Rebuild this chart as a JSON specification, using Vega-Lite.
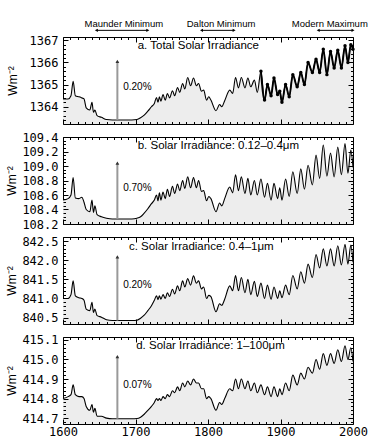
{
"$schema": "https://vega.github.io/schema/vega-lite/v6.json",
"background": "white",
"padding": {"left": 5, "top": 18, "right": 3, "bottom": 2},
"bounds": "flush",
"spacing": 13,
"datasets": {
"solar": [
{"year":1600,"tsi":1364.35,"uv":108.53,"vis":841.0,"ir":414.8},
{"year":1607,"tsi":1364.35,"uv":108.55,"vis":841.0,"ir":414.81},
{"year":1611,"tsi":1364.5,"uv":108.6,"vis":841.1,"ir":414.82},
{"year":1614,"tsi":1365.15,"uv":108.84,"vis":841.46,"ir":414.87},
{"year":1617,"tsi":1364.5,"uv":108.56,"vis":841.07,"ir":414.82},
{"year":1622,"tsi":1364.45,"uv":108.55,"vis":841.02,"ir":414.81},
{"year":1626,"tsi":1364.4,"uv":108.57,"vis":841.0,"ir":414.81},
{"year":1629,"tsi":1364.35,"uv":108.5,"vis":840.95,"ir":414.8},
{"year":1632,"tsi":1363.95,"uv":108.4,"vis":840.72,"ir":414.76},
{"year":1637,"tsi":1363.85,"uv":108.37,"vis":840.68,"ir":414.74},
{"year":1640,"tsi":1364.2,"uv":108.53,"vis":840.9,"ir":414.77},
{"year":1642,"tsi":1363.75,"uv":108.36,"vis":840.63,"ir":414.73},
{"year":1644,"tsi":1363.85,"uv":108.45,"vis":840.72,"ir":414.75},
{"year":1647,"tsi":1363.6,"uv":108.33,"vis":840.55,"ir":414.71},
{"year":1653,"tsi":1363.52,"uv":108.3,"vis":840.51,"ir":414.71},
{"year":1660,"tsi":1363.42,"uv":108.28,"vis":840.44,"ir":414.7},
{"year":1668,"tsi":1363.4,"uv":108.27,"vis":840.42,"ir":414.697},
{"year":1680,"tsi":1363.4,"uv":108.27,"vis":840.42,"ir":414.697},
{"year":1695,"tsi":1363.4,"uv":108.27,"vis":840.42,"ir":414.697},
{"year":1702,"tsi":1363.42,"uv":108.28,"vis":840.43,"ir":414.698},
{"year":1707,"tsi":1363.5,"uv":108.3,"vis":840.48,"ir":414.705},
{"year":1712,"tsi":1363.62,"uv":108.35,"vis":840.56,"ir":414.72},
{"year":1717,"tsi":1363.8,"uv":108.41,"vis":840.68,"ir":414.74},
{"year":1722,"tsi":1364.0,"uv":108.48,"vis":840.81,"ir":414.76},
{"year":1726,"tsi":1364.15,"uv":108.53,"vis":840.95,"ir":414.78},
{"year":1729,"tsi":1364.42,"uv":108.6,"vis":841.07,"ir":414.8},
{"year":1731,"tsi":1364.2,"uv":108.52,"vis":840.97,"ir":414.79},
{"year":1733,"tsi":1364.45,"uv":108.63,"vis":841.07,"ir":414.8},
{"year":1735,"tsi":1364.25,"uv":108.53,"vis":840.98,"ir":414.79},
{"year":1738,"tsi":1364.55,"uv":108.64,"vis":841.1,"ir":414.81},
{"year":1741,"tsi":1364.3,"uv":108.55,"vis":841.0,"ir":414.8},
{"year":1744,"tsi":1364.6,"uv":108.68,"vis":841.15,"ir":414.82},
{"year":1747,"tsi":1364.4,"uv":108.58,"vis":841.05,"ir":414.81},
{"year":1751,"tsi":1364.72,"uv":108.72,"vis":841.24,"ir":414.84},
{"year":1754,"tsi":1364.5,"uv":108.62,"vis":841.12,"ir":414.83},
{"year":1758,"tsi":1364.87,"uv":108.75,"vis":841.33,"ir":414.86},
{"year":1761,"tsi":1364.65,"uv":108.66,"vis":841.2,"ir":414.84},
{"year":1765,"tsi":1365.05,"uv":108.8,"vis":841.46,"ir":414.88},
{"year":1768,"tsi":1364.8,"uv":108.69,"vis":841.3,"ir":414.86},
{"year":1772,"tsi":1365.32,"uv":108.85,"vis":841.52,"ir":414.89},
{"year":1776,"tsi":1364.95,"uv":108.7,"vis":841.35,"ir":414.87},
{"year":1780,"tsi":1365.3,"uv":108.84,"vis":841.59,"ir":414.9},
{"year":1784,"tsi":1364.95,"uv":108.7,"vis":841.4,"ir":414.88},
{"year":1787,"tsi":1365.05,"uv":108.8,"vis":841.46,"ir":414.88},
{"year":1791,"tsi":1364.7,"uv":108.65,"vis":841.25,"ir":414.85},
{"year":1794,"tsi":1364.75,"uv":108.66,"vis":841.3,"ir":414.85},
{"year":1798,"tsi":1364.3,"uv":108.52,"vis":841.0,"ir":414.8},
{"year":1801,"tsi":1364.45,"uv":108.58,"vis":841.08,"ir":414.81},
{"year":1804,"tsi":1364.3,"uv":108.55,"vis":841.05,"ir":414.8},
{"year":1811,"tsi":1363.82,"uv":108.37,"vis":840.65,"ir":414.74},
{"year":1816,"tsi":1364.1,"uv":108.49,"vis":840.86,"ir":414.78},
{"year":1819,"tsi":1364.0,"uv":108.45,"vis":840.82,"ir":414.77},
{"year":1823,"tsi":1364.27,"uv":108.55,"vis":840.98,"ir":414.8},
{"year":1830,"tsi":1364.75,"uv":108.71,"vis":841.33,"ir":414.85},
{"year":1834,"tsi":1364.6,"uv":108.63,"vis":841.2,"ir":414.84},
{"year":1838,"tsi":1365.32,"uv":108.88,"vis":841.6,"ir":414.9},
{"year":1842,"tsi":1364.85,"uv":108.66,"vis":841.2,"ir":414.85},
{"year":1846,"tsi":1365.32,"uv":108.85,"vis":841.55,"ir":414.9},
{"year":1851,"tsi":1364.85,"uv":108.62,"vis":841.15,"ir":414.85},
{"year":1855,"tsi":1365.3,"uv":108.83,"vis":841.5,"ir":414.89},
{"year":1859,"tsi":1364.9,"uv":108.6,"vis":841.1,"ir":414.84},
{"year":1864,"tsi":1365.2,"uv":108.8,"vis":841.45,"ir":414.88},
{"year":1868,"tsi":1364.65,"uv":108.6,"vis":841.05,"ir":414.83},
{"year":1873,"tsi":1365.6,"uv":108.82,"vis":841.4,"ir":414.87},
{"year":1878,"tsi":1364.3,"uv":108.57,"vis":841.0,"ir":414.82},
{"year":1882,"tsi":1365.0,"uv":108.76,"vis":841.35,"ir":414.86},
{"year":1887,"tsi":1364.5,"uv":108.53,"vis":840.98,"ir":414.81},
{"year":1891,"tsi":1365.3,"uv":108.76,"vis":841.3,"ir":414.86},
{"year":1896,"tsi":1364.55,"uv":108.55,"vis":841.0,"ir":414.81},
{"year":1899,"tsi":1364.7,"uv":108.7,"vis":841.2,"ir":414.85},
{"year":1902,"tsi":1364.2,"uv":108.53,"vis":841.02,"ir":414.82},
{"year":1907,"tsi":1365.0,"uv":108.82,"vis":841.35,"ir":414.88},
{"year":1912,"tsi":1364.45,"uv":108.58,"vis":841.1,"ir":414.84},
{"year":1917,"tsi":1365.45,"uv":108.92,"vis":841.6,"ir":414.92},
{"year":1923,"tsi":1364.9,"uv":108.62,"vis":841.25,"ir":414.87},
{"year":1928,"tsi":1365.55,"uv":108.96,"vis":841.7,"ir":414.93},
{"year":1933,"tsi":1365.0,"uv":108.68,"vis":841.4,"ir":414.9},
{"year":1938,"tsi":1366.0,"uv":109.01,"vis":841.9,"ir":414.96},
{"year":1944,"tsi":1365.55,"uv":108.74,"vis":841.55,"ir":414.93},
{"year":1949,"tsi":1366.15,"uv":109.15,"vis":842.15,"ir":415.0},
{"year":1954,"tsi":1365.55,"uv":108.83,"vis":841.8,"ir":414.95},
{"year":1959,"tsi":1366.6,"uv":109.29,"vis":842.3,"ir":415.03},
{"year":1964,"tsi":1365.45,"uv":108.86,"vis":841.85,"ir":414.97},
{"year":1969,"tsi":1366.5,"uv":109.18,"vis":842.3,"ir":415.03},
{"year":1974,"tsi":1365.75,"uv":108.85,"vis":841.85,"ir":414.98},
{"year":1979,"tsi":1366.55,"uv":109.26,"vis":842.38,"ir":415.05},
{"year":1984,"tsi":1365.75,"uv":108.88,"vis":841.88,"ir":414.99},
{"year":1989,"tsi":1366.75,"uv":109.31,"vis":842.42,"ir":415.07},
{"year":1993,"tsi":1366.0,"uv":108.9,"vis":841.9,"ir":415.0},
{"year":1997,"tsi":1366.8,"uv":109.22,"vis":842.4,"ir":415.06},
{"year":2000,"tsi":1366.6,"uv":108.98,"vis":841.95,"ir":414.99}
]
},
"vconcat": [
{
"width": 290, "height": 87,
"data": {"name": "solar"},
"resolve": {"axis": {"x": "independent", "y": "independent"}},
"layer": [
{"mark": {"type": "area", "color": "#ededed", "interpolate": "monotone", "clip": true},
 "encoding": {
  "x": {"field": "year", "type": "quantitative", "scale": {"domain": [1600, 2000], "nice": false, "zero": false}, "axis": {"orient": "bottom", "values": [1600,1700,1800,1900,2000], "offset": -5, "tickSize": 5, "labels": false, "title": null, "zindex": 2}},
  "y": {"field": "tsi", "type": "quantitative", "scale": {"domain": [1363.22, 1367.15], "nice": false, "zero": false}, "axis": {"orient": "left", "values": [1364,1365,1366,1367], "format": ".0f", "offset": -5, "tickSize": 5, "labelPadding": 5, "title": "Wm⁻²", "titlePadding": 10, "zindex": 2}},
  "y2": {"datum": 1363.22}
 }},
{"mark": {"type": "line", "color": "black", "strokeWidth": 1.1, "interpolate": "monotone"},
 "encoding": {
  "x": {"field": "year", "type": "quantitative", "axis": {"orient": "bottom", "values": [1610,1620,1630,1640,1650,1660,1670,1680,1690,1710,1720,1730,1740,1750,1760,1770,1780,1790,1810,1820,1830,1840,1850,1860,1870,1880,1890,1910,1920,1930,1940,1950,1960,1970,1980,1990], "offset": -2.5, "tickSize": 2.5, "labels": false, "title": null, "zindex": 2}},
  "y": {"field": "tsi", "type": "quantitative", "axis": {"orient": "left", "values": [1363.4,1363.6,1363.8,1364.2,1364.4,1364.6,1364.8,1365.2,1365.4,1365.6,1365.8,1366.2,1366.4,1366.6,1366.8], "offset": -2.5, "tickSize": 2.5, "labels": false, "title": null, "zindex": 2}}
 }},
{"transform": [{"filter": "datum.year >= 1873"}],
 "mark": {"type": "line", "color": "black", "strokeWidth": 1.9, "interpolate": "monotone"},
 "encoding": {
  "x": {"field": "year", "type": "quantitative", "axis": null},
  "y": {"field": "tsi", "type": "quantitative", "axis": null}
 }},
{"transform": [{"filter": "datum.year >= 1873"}],
 "mark": {"type": "point", "filled": true, "color": "black", "size": 12, "opacity": 1},
 "encoding": {
  "x": {"field": "year", "type": "quantitative", "axis": null},
  "y": {"field": "tsi", "type": "quantitative", "axis": null}
 }},
{"data": {"values": [{"year": 1675, "lo": 1363.4, "hi": 1366.05}]},
 "mark": {"type": "rule", "color": "#999999", "strokeWidth": 2},
 "encoding": {
  "x": {"field": "year", "type": "quantitative", "axis": null},
  "y": {"field": "lo", "type": "quantitative", "axis": null},
  "y2": {"field": "hi"}
 }},
{"data": {"values": [{"year": 1675, "hi": 1366.05}]},
 "mark": {"type": "point", "shape": "triangle-up", "filled": true, "color": "#333333", "size": 14, "opacity": 1},
 "encoding": {
  "x": {"field": "year", "type": "quantitative", "axis": null},
  "y": {"field": "hi", "type": "quantitative", "axis": null}
 }},
{"data": {"values": [{"year": 1683, "v": 1364.87, "label": "0.20%"}]},
 "mark": {"type": "text", "align": "left", "baseline": "middle", "fontSize": 10, "font": "Liberation Sans", "color": "black"},
 "encoding": {
  "x": {"field": "year", "type": "quantitative", "axis": {"orient": "top", "values": [1610,1620,1630,1640,1650,1660,1670,1680,1690,1710,1720,1730,1740,1750,1760,1770,1780,1790,1810,1820,1830,1840,1850,1860,1870,1880,1890,1910,1920,1930,1940,1950,1960,1970,1980,1990], "offset": -2.5, "tickSize": 2.5, "labels": false, "title": null, "zindex": 2}},
  "y": {"field": "v", "type": "quantitative", "axis": {"orient": "right", "values": [1363.4,1363.6,1363.8,1364.2,1364.4,1364.6,1364.8,1365.2,1365.4,1365.6,1365.8,1366.2,1366.4,1366.6,1366.8], "offset": -2.5, "tickSize": 2.5, "labels": false, "title": null, "zindex": 2}},
  "text": {"field": "label"}
 }},
{"data": {"values": [{"year": 1703, "v": 1366.74, "label": "a. Total Solar Irradiance"}]},
 "mark": {"type": "text", "align": "left", "baseline": "middle", "fontSize": 11.5, "font": "Liberation Sans", "color": "black"},
 "encoding": {
  "x": {"field": "year", "type": "quantitative", "axis": {"orient": "top", "values": [1600,1700,1800,1900,2000], "offset": -5, "tickSize": 5, "labels": false, "title": null, "zindex": 2}},
  "y": {"field": "v", "type": "quantitative", "axis": {"orient": "right", "values": [1364,1365,1366,1367], "offset": -5, "tickSize": 5, "labels": false, "title": null, "zindex": 2}},
  "text": {"field": "label"}
 }},
{"data": {"values": [
   {"year": 1684, "v": 1367.74, "label": "Maunder Minimum"},
   {"year": 1818, "v": 1367.74, "label": "Dalton Minimum"},
   {"year": 1968, "v": 1367.74, "label": "Modern Maximum"}]},
 "mark": {"type": "text", "align": "center", "baseline": "middle", "fontSize": 9.5, "font": "Liberation Sans", "color": "black"},
 "encoding": {
  "x": {"field": "year", "type": "quantitative", "axis": null},
  "y": {"field": "v", "type": "quantitative", "axis": null},
  "text": {"field": "label"}
 }},
{"data": {"values": [
   {"from": 1646, "to": 1717, "v": 1367.45},
   {"from": 1791, "to": 1836, "v": 1367.45},
   {"from": 1952, "to": 2000, "v": 1367.45}]},
 "mark": {"type": "rule", "color": "black", "strokeWidth": 1},
 "encoding": {
  "x": {"field": "from", "type": "quantitative", "axis": null},
  "x2": {"field": "to"},
  "y": {"field": "v", "type": "quantitative", "axis": null}
 }},
{"data": {"values": [
   {"from": 1646, "v": 1367.45},
   {"from": 1791, "v": 1367.45},
   {"from": 1952, "v": 1367.45}]},
 "mark": {"type": "point", "shape": "triangle-left", "filled": true, "color": "black", "size": 12, "opacity": 1},
 "encoding": {
  "x": {"field": "from", "type": "quantitative", "axis": null},
  "y": {"field": "v", "type": "quantitative", "axis": null}
 }},
{"data": {"values": [
   {"to": 1717, "v": 1367.45},
   {"to": 1836, "v": 1367.45},
   {"to": 2000, "v": 1367.45}]},
 "mark": {"type": "point", "shape": "triangle-right", "filled": true, "color": "black", "size": 12, "opacity": 1},
 "encoding": {
  "x": {"field": "to", "type": "quantitative", "axis": null},
  "y": {"field": "v", "type": "quantitative", "axis": null}
 }}
]
},
{
"width": 290, "height": 87,
"data": {"name": "solar"},
"resolve": {"axis": {"x": "independent", "y": "independent"}},
"layer": [
{"mark": {"type": "area", "color": "#ededed", "interpolate": "monotone", "clip": true},
 "encoding": {
  "x": {"field": "year", "type": "quantitative", "scale": {"domain": [1600, 2000], "nice": false, "zero": false}, "axis": {"orient": "bottom", "values": [1600,1700,1800,1900,2000], "offset": -5, "tickSize": 5, "labels": false, "title": null, "zindex": 2}},
  "y": {"field": "uv", "type": "quantitative", "scale": {"domain": [108.2, 109.4], "nice": false, "zero": false}, "axis": {"orient": "left", "values": [108.2,108.4,108.6,108.8,109.0,109.2,109.4], "format": ".1f", "offset": -5, "tickSize": 5, "labelPadding": 5, "title": "Wm⁻²", "titlePadding": 3, "zindex": 2}},
  "y2": {"datum": 108.2}
 }},
{"mark": {"type": "line", "color": "black", "strokeWidth": 1.1, "interpolate": "monotone"},
 "encoding": {
  "x": {"field": "year", "type": "quantitative", "axis": {"orient": "bottom", "values": [1610,1620,1630,1640,1650,1660,1670,1680,1690,1710,1720,1730,1740,1750,1760,1770,1780,1790,1810,1820,1830,1840,1850,1860,1870,1880,1890,1910,1920,1930,1940,1950,1960,1970,1980,1990], "offset": -2.5, "tickSize": 2.5, "labels": false, "title": null, "zindex": 2}},
  "y": {"field": "uv", "type": "quantitative", "axis": {"orient": "left", "values": [108.25,108.3,108.35,108.45,108.5,108.55,108.65,108.7,108.75,108.85,108.9,108.95,109.05,109.1,109.15,109.25,109.3,109.35], "offset": -2.5, "tickSize": 2.5, "labels": false, "title": null, "zindex": 2}}
 }},
{"data": {"values": [{"year": 1675, "lo": 108.27, "hi": 109.04}]},
 "mark": {"type": "rule", "color": "#999999", "strokeWidth": 2},
 "encoding": {
  "x": {"field": "year", "type": "quantitative", "axis": null},
  "y": {"field": "lo", "type": "quantitative", "axis": null},
  "y2": {"field": "hi"}
 }},
{"data": {"values": [{"year": 1675, "hi": 109.04}]},
 "mark": {"type": "point", "shape": "triangle-up", "filled": true, "color": "#333333", "size": 14, "opacity": 1},
 "encoding": {
  "x": {"field": "year", "type": "quantitative", "axis": null},
  "y": {"field": "hi", "type": "quantitative", "axis": null}
 }},
{"data": {"values": [{"year": 1683, "v": 108.69, "label": "0.70%"}]},
 "mark": {"type": "text", "align": "left", "baseline": "middle", "fontSize": 10, "font": "Liberation Sans", "color": "black"},
 "encoding": {
  "x": {"field": "year", "type": "quantitative", "axis": {"orient": "top", "values": [1610,1620,1630,1640,1650,1660,1670,1680,1690,1710,1720,1730,1740,1750,1760,1770,1780,1790,1810,1820,1830,1840,1850,1860,1870,1880,1890,1910,1920,1930,1940,1950,1960,1970,1980,1990], "offset": -2.5, "tickSize": 2.5, "labels": false, "title": null, "zindex": 2}},
  "y": {"field": "v", "type": "quantitative", "axis": {"orient": "right", "values": [108.25,108.3,108.35,108.45,108.5,108.55,108.65,108.7,108.75,108.85,108.9,108.95,109.05,109.1,109.15,109.25,109.3,109.35], "offset": -2.5, "tickSize": 2.5, "labels": false, "title": null, "zindex": 2}},
  "text": {"field": "label"}
 }},
{"data": {"values": [{"year": 1703, "v": 109.275, "label": "b. Solar Irradiance: 0.12–0.4μm"}]},
 "mark": {"type": "text", "align": "left", "baseline": "middle", "fontSize": 11.5, "font": "Liberation Sans", "color": "black"},
 "encoding": {
  "x": {"field": "year", "type": "quantitative", "axis": {"orient": "top", "values": [1600,1700,1800,1900,2000], "offset": -5, "tickSize": 5, "labels": false, "title": null, "zindex": 2}},
  "y": {"field": "v", "type": "quantitative", "axis": {"orient": "right", "values": [108.2,108.4,108.6,108.8,109.0,109.2,109.4], "offset": -5, "tickSize": 5, "labels": false, "title": null, "zindex": 2}},
  "text": {"field": "label"}
 }}
]
},
{
"width": 290, "height": 87,
"data": {"name": "solar"},
"resolve": {"axis": {"x": "independent", "y": "independent"}},
"layer": [
{"mark": {"type": "area", "color": "#ededed", "interpolate": "monotone", "clip": true},
 "encoding": {
  "x": {"field": "year", "type": "quantitative", "scale": {"domain": [1600, 2000], "nice": false, "zero": false}, "axis": {"orient": "bottom", "values": [1600,1700,1800,1900,2000], "offset": -5, "tickSize": 5, "labels": false, "title": null, "zindex": 2}},
  "y": {"field": "vis", "type": "quantitative", "scale": {"domain": [840.33, 842.61], "nice": false, "zero": false}, "axis": {"orient": "left", "values": [840.5,841.0,841.5,842.0,842.5], "format": ".1f", "offset": -5, "tickSize": 5, "labelPadding": 5, "title": "Wm⁻²", "titlePadding": 3, "zindex": 2}},
  "y2": {"datum": 840.33}
 }},
{"mark": {"type": "line", "color": "black", "strokeWidth": 1.1, "interpolate": "monotone"},
 "encoding": {
  "x": {"field": "year", "type": "quantitative", "axis": {"orient": "bottom", "values": [1610,1620,1630,1640,1650,1660,1670,1680,1690,1710,1720,1730,1740,1750,1760,1770,1780,1790,1810,1820,1830,1840,1850,1860,1870,1880,1890,1910,1920,1930,1940,1950,1960,1970,1980,1990], "offset": -2.5, "tickSize": 2.5, "labels": false, "title": null, "zindex": 2}},
  "y": {"field": "vis", "type": "quantitative", "axis": {"orient": "left", "values": [840.4,840.6,840.7,840.8,840.9,841.1,841.2,841.3,841.4,841.6,841.7,841.8,841.9,842.1,842.2,842.3,842.4,842.6], "offset": -2.5, "tickSize": 2.5, "labels": false, "title": null, "zindex": 2}}
 }},
{"data": {"values": [{"year": 1675, "lo": 840.42, "hi": 842.09}]},
 "mark": {"type": "rule", "color": "#999999", "strokeWidth": 2},
 "encoding": {
  "x": {"field": "year", "type": "quantitative", "axis": null},
  "y": {"field": "lo", "type": "quantitative", "axis": null},
  "y2": {"field": "hi"}
 }},
{"data": {"values": [{"year": 1675, "hi": 842.09}]},
 "mark": {"type": "point", "shape": "triangle-up", "filled": true, "color": "#333333", "size": 14, "opacity": 1},
 "encoding": {
  "x": {"field": "year", "type": "quantitative", "axis": null},
  "y": {"field": "hi", "type": "quantitative", "axis": null}
 }},
{"data": {"values": [{"year": 1683, "v": 841.35, "label": "0.20%"}]},
 "mark": {"type": "text", "align": "left", "baseline": "middle", "fontSize": 10, "font": "Liberation Sans", "color": "black"},
 "encoding": {
  "x": {"field": "year", "type": "quantitative", "axis": {"orient": "top", "values": [1610,1620,1630,1640,1650,1660,1670,1680,1690,1710,1720,1730,1740,1750,1760,1770,1780,1790,1810,1820,1830,1840,1850,1860,1870,1880,1890,1910,1920,1930,1940,1950,1960,1970,1980,1990], "offset": -2.5, "tickSize": 2.5, "labels": false, "title": null, "zindex": 2}},
  "y": {"field": "v", "type": "quantitative", "axis": {"orient": "right", "values": [840.4,840.6,840.7,840.8,840.9,841.1,841.2,841.3,841.4,841.6,841.7,841.8,841.9,842.1,842.2,842.3,842.4,842.6], "offset": -2.5, "tickSize": 2.5, "labels": false, "title": null, "zindex": 2}},
  "text": {"field": "label"}
 }},
{"data": {"values": [{"year": 1691, "v": 842.36, "label": "c. Solar Irradiance: 0.4–1μm"}]},
 "mark": {"type": "text", "align": "left", "baseline": "middle", "fontSize": 11.5, "font": "Liberation Sans", "color": "black"},
 "encoding": {
  "x": {"field": "year", "type": "quantitative", "axis": {"orient": "top", "values": [1600,1700,1800,1900,2000], "offset": -5, "tickSize": 5, "labels": false, "title": null, "zindex": 2}},
  "y": {"field": "v", "type": "quantitative", "axis": {"orient": "right", "values": [840.5,841.0,841.5,842.0,842.5], "offset": -5, "tickSize": 5, "labels": false, "title": null, "zindex": 2}},
  "text": {"field": "label"}
 }}
]
},
{
"width": 290, "height": 87,
"data": {"name": "solar"},
"resolve": {"axis": {"x": "independent", "y": "independent"}},
"layer": [
{"mark": {"type": "area", "color": "#ededed", "interpolate": "monotone", "clip": true},
 "encoding": {
  "x": {"field": "year", "type": "quantitative", "scale": {"domain": [1600, 2000], "nice": false, "zero": false}, "axis": {"orient": "bottom", "values": [1600,1700,1800,1900,2000], "format": "d", "offset": -5, "tickSize": 5, "labelPadding": 2, "labelFlush": false, "title": null, "zindex": 2}},
  "y": {"field": "ir", "type": "quantitative", "scale": {"domain": [414.67, 415.115], "nice": false, "zero": false}, "axis": {"orient": "left", "values": [414.7,414.8,414.9,415.0,415.1], "format": ".1f", "offset": -5, "tickSize": 5, "labelPadding": 5, "title": "Wm⁻²", "titlePadding": 3, "zindex": 2}},
  "y2": {"datum": 414.67}
 }},
{"mark": {"type": "line", "color": "black", "strokeWidth": 1.1, "interpolate": "monotone"},
 "encoding": {
  "x": {"field": "year", "type": "quantitative", "axis": {"orient": "bottom", "values": [1610,1620,1630,1640,1650,1660,1670,1680,1690,1710,1720,1730,1740,1750,1760,1770,1780,1790,1810,1820,1830,1840,1850,1860,1870,1880,1890,1910,1920,1930,1940,1950,1960,1970,1980,1990], "offset": -2.5, "tickSize": 2.5, "labels": false, "title": null, "zindex": 2}},
  "y": {"field": "ir", "type": "quantitative", "axis": {"orient": "left", "values": [414.68,414.72,414.74,414.76,414.78,414.82,414.84,414.86,414.88,414.92,414.94,414.96,414.98,415.02,415.04,415.06,415.08], "offset": -2.5, "tickSize": 2.5, "labels": false, "title": null, "zindex": 2}}
 }},
{"data": {"values": [{"year": 1675, "lo": 414.697, "hi": 415.015}]},
 "mark": {"type": "rule", "color": "#999999", "strokeWidth": 2},
 "encoding": {
  "x": {"field": "year", "type": "quantitative", "axis": null},
  "y": {"field": "lo", "type": "quantitative", "axis": null},
  "y2": {"field": "hi"}
 }},
{"data": {"values": [{"year": 1675, "hi": 415.015}]},
 "mark": {"type": "point", "shape": "triangle-up", "filled": true, "color": "#333333", "size": 14, "opacity": 1},
 "encoding": {
  "x": {"field": "year", "type": "quantitative", "axis": null},
  "y": {"field": "hi", "type": "quantitative", "axis": null}
 }},
{"data": {"values": [{"year": 1683, "v": 414.87, "label": "0.07%"}]},
 "mark": {"type": "text", "align": "left", "baseline": "middle", "fontSize": 10, "font": "Liberation Sans", "color": "black"},
 "encoding": {
  "x": {"field": "year", "type": "quantitative", "axis": {"orient": "top", "values": [1610,1620,1630,1640,1650,1660,1670,1680,1690,1710,1720,1730,1740,1750,1760,1770,1780,1790,1810,1820,1830,1840,1850,1860,1870,1880,1890,1910,1920,1930,1940,1950,1960,1970,1980,1990], "offset": -2.5, "tickSize": 2.5, "labels": false, "title": null, "zindex": 2}},
  "y": {"field": "v", "type": "quantitative", "axis": {"orient": "right", "values": [414.68,414.72,414.74,414.76,414.78,414.82,414.84,414.86,414.88,414.92,414.94,414.96,414.98,415.02,415.04,415.06,415.08], "offset": -2.5, "tickSize": 2.5, "labels": false, "title": null, "zindex": 2}},
  "text": {"field": "label"}
 }},
{"data": {"values": [{"year": 1701, "v": 415.07, "label": "d. Solar Irradiance: 1–100μm"}]},
 "mark": {"type": "text", "align": "left", "baseline": "middle", "fontSize": 11.5, "font": "Liberation Sans", "color": "black"},
 "encoding": {
  "x": {"field": "year", "type": "quantitative", "axis": {"orient": "top", "values": [1600,1700,1800,1900,2000], "offset": -5, "tickSize": 5, "labels": false, "title": null, "zindex": 2}},
  "y": {"field": "v", "type": "quantitative", "axis": {"orient": "right", "values": [414.7,414.8,414.9,415.0,415.1], "offset": -5, "tickSize": 5, "labels": false, "title": null, "zindex": 2}},
  "text": {"field": "label"}
 }}
]
}
],
"config": {
 "view": {"stroke": "black", "strokeWidth": 1},
 "font": "Liberation Sans",
 "axis": {"grid": false, "domain": false, "ticks": true, "tickColor": "black", "tickWidth": 1, "tickOpacity": 1, "labelColor": "black", "labelOverlap": false, "titleColor": "black", "labelFont": "DejaVu Sans Mono", "labelFontSize": 12, "titleFont": "Liberation Sans", "titleFontSize": 12, "titleFontWeight": "normal"}
}
}
